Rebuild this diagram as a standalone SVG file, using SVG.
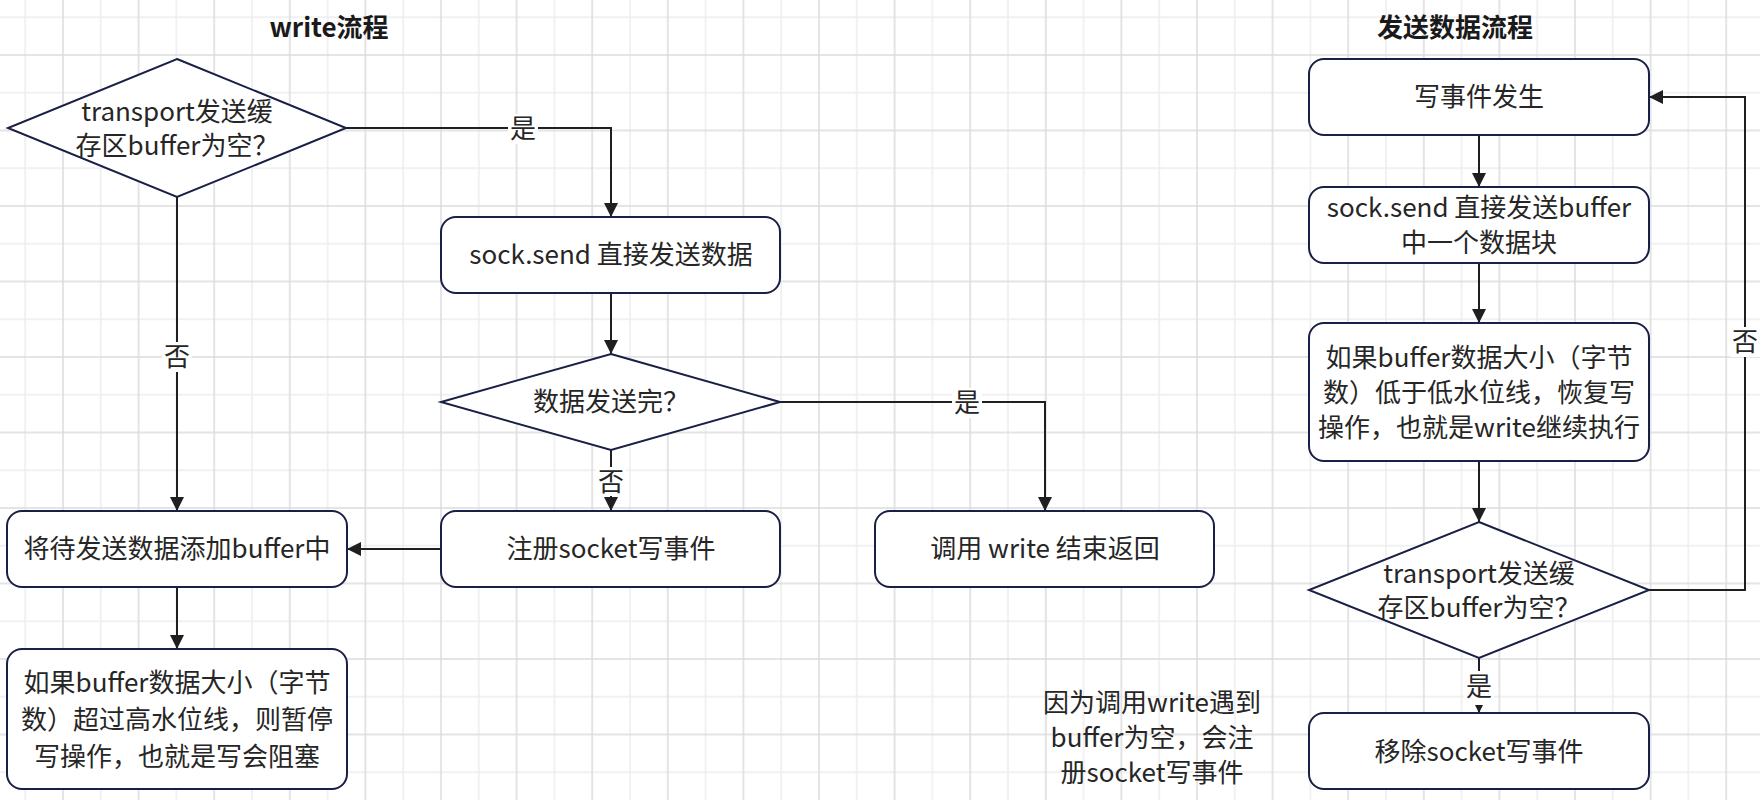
<svg xmlns="http://www.w3.org/2000/svg" width="1760" height="800" viewBox="0 0 1760 800">
  <defs>
    <pattern id="grid" patternUnits="userSpaceOnUse" x="15.2" y="7.3" width="75.6" height="75.5">
      <rect width="75.6" height="75.5" fill="#ffffff"/>
      <path d="M10 0V75.5M0 10H75.6" stroke="#ededed" stroke-width="1.5"/>
      <path d="M47.8 0V75.5M0 47.75H75.6" stroke="#dcdcdc" stroke-width="1.5"/>
    </pattern>
    <marker id="arrow" markerUnits="userSpaceOnUse" viewBox="0 0 14 14" markerWidth="14" markerHeight="14" refX="14" refY="7" orient="auto">
      <path d="M0 0L14 7L0 14z" fill="#1f1f1f"/>
    </marker>
    <style>
      .shape { fill: #ffffff; stroke: #1a1f45; stroke-width: 2; }
      .txt { font-family: "Noto Sans CJK SC", "Noto Sans", sans-serif; font-size: 26px; fill: #262626; text-anchor: middle; }
      .title { font-family: "Noto Sans CJK SC", "Noto Sans", sans-serif; font-size: 26px; font-weight: bold; fill: #1a1a1a; text-anchor: middle; }
      .edge { fill: none; stroke: #1f1f1f; stroke-width: 2; marker-end: url(#arrow); }
      .lbl-bg { fill: #ffffff; }
      .lbl { font-family: "Noto Sans CJK SC", "Noto Sans", sans-serif; font-size: 26px; fill: #262626; text-anchor: middle; }
    </style>
  </defs>

  <!-- background grid -->
  <rect x="0" y="0" width="1760" height="800" fill="url(#grid)"/>

  <!-- titles -->
  <text class="title" x="329" y="37">write流程</text>
  <text class="title" x="1455" y="37">发送数据流程</text>

  <!-- connectors -->
  <g id="connectors">
    <path class="edge" d="M346 128H611V217"/>
    <path class="edge" d="M177 197V511"/>
    <path class="edge" d="M611 293V354"/>
    <path class="edge" d="M780 402H1045V511"/>
    <path class="edge" d="M611 450V511"/>
    <path class="edge" d="M441 549H347"/>
    <path class="edge" d="M177 587V649"/>
    <path class="edge" d="M1479 135V187"/>
    <path class="edge" d="M1479 263V323"/>
    <path class="edge" d="M1479 461V522"/>
    <path class="edge" d="M1649 590H1745V97H1649"/>
    <path class="edge" d="M1479 658V713"/>

    <!-- edge labels -->
    <rect class="lbl-bg" x="508" y="114" width="30" height="30"/>
    <text class="lbl" x="523" y="138">是</text>
    <rect class="lbl-bg" x="162" y="342" width="30" height="30"/>
    <text class="lbl" x="177" y="366">否</text>
    <rect class="lbl-bg" x="952" y="388" width="30" height="30"/>
    <text class="lbl" x="967" y="412">是</text>
    <rect class="lbl-bg" x="596" y="467" width="30" height="29"/>
    <text class="lbl" x="611" y="491">否</text>
    <rect class="lbl-bg" x="1730" y="327" width="30" height="30"/>
    <text class="lbl" x="1745" y="351">否</text>
    <rect class="lbl-bg" x="1464" y="671" width="30" height="34"/>
    <text class="lbl" x="1479" y="696">是</text>
  </g>

  <!-- write flow -->
  <g id="d-buffer-empty">
    <polygon class="shape" points="177,59 346,128 177,197 8,128"/>
    <text class="txt" x="177" y="121">transport发送缓</text>
    <text class="txt" x="177" y="155">存区buffer为空？</text>
  </g>
  <g id="n-sock-send">
    <rect class="shape" x="441" y="217" width="339" height="76" rx="15"/>
    <text class="txt" x="611" y="264">sock.send 直接发送数据</text>
  </g>
  <g id="d-sent-all">
    <polygon class="shape" points="611,354 780,402 611,450 441,402"/>
    <text class="txt" x="611" y="411">数据发送完？</text>
  </g>
  <g id="n-register">
    <rect class="shape" x="441" y="511" width="339" height="76" rx="15"/>
    <text class="txt" x="611" y="558">注册socket写事件</text>
  </g>
  <g id="n-return">
    <rect class="shape" x="875" y="511" width="339" height="76" rx="15"/>
    <text class="txt" x="1045" y="558">调用 write 结束返回</text>
  </g>
  <g id="n-append">
    <rect class="shape" x="7" y="511" width="340" height="76" rx="15"/>
    <text class="txt" x="177" y="558">将待发送数据添加buffer中</text>
  </g>
  <g id="n-high-water">
    <rect class="shape" x="7" y="649" width="340" height="140" rx="15"/>
    <text class="txt" x="177" y="692">如果buffer数据大小（字节</text>
    <text class="txt" x="177" y="729">数）超过高水位线，则暂停</text>
    <text class="txt" x="177" y="766">写操作，也就是写会阻塞</text>
  </g>

  <!-- send flow -->
  <g id="n-write-event">
    <rect class="shape" x="1309" y="59" width="340" height="76" rx="15"/>
    <text class="txt" x="1479" y="106">写事件发生</text>
  </g>
  <g id="n-send-chunk">
    <rect class="shape" x="1309" y="187" width="340" height="76" rx="15"/>
    <text class="txt" x="1479" y="217">sock.send 直接发送buffer</text>
    <text class="txt" x="1479" y="252">中一个数据块</text>
  </g>
  <g id="n-low-water">
    <rect class="shape" x="1309" y="323" width="340" height="138" rx="15"/>
    <text class="txt" x="1479" y="367">如果buffer数据大小（字节</text>
    <text class="txt" x="1479" y="402">数）低于低水位线，恢复写</text>
    <text class="txt" x="1479" y="437">操作，也就是write继续执行</text>
  </g>
  <g id="d-buffer-empty-2">
    <polygon class="shape" points="1479,522 1649,590 1479,658 1309,590"/>
    <text class="txt" x="1479" y="583">transport发送缓</text>
    <text class="txt" x="1479" y="617">存区buffer为空？</text>
  </g>
  <g id="n-remove">
    <rect class="shape" x="1309" y="713" width="340" height="76" rx="15"/>
    <text class="txt" x="1479" y="761">移除socket写事件</text>
  </g>

  <!-- free note -->
  <g id="note">
    <text class="txt" x="1152" y="712">因为调用write遇到</text>
    <text class="txt" x="1152" y="747">buffer为空，会注</text>
    <text class="txt" x="1152" y="782">册socket写事件</text>
  </g>
</svg>
